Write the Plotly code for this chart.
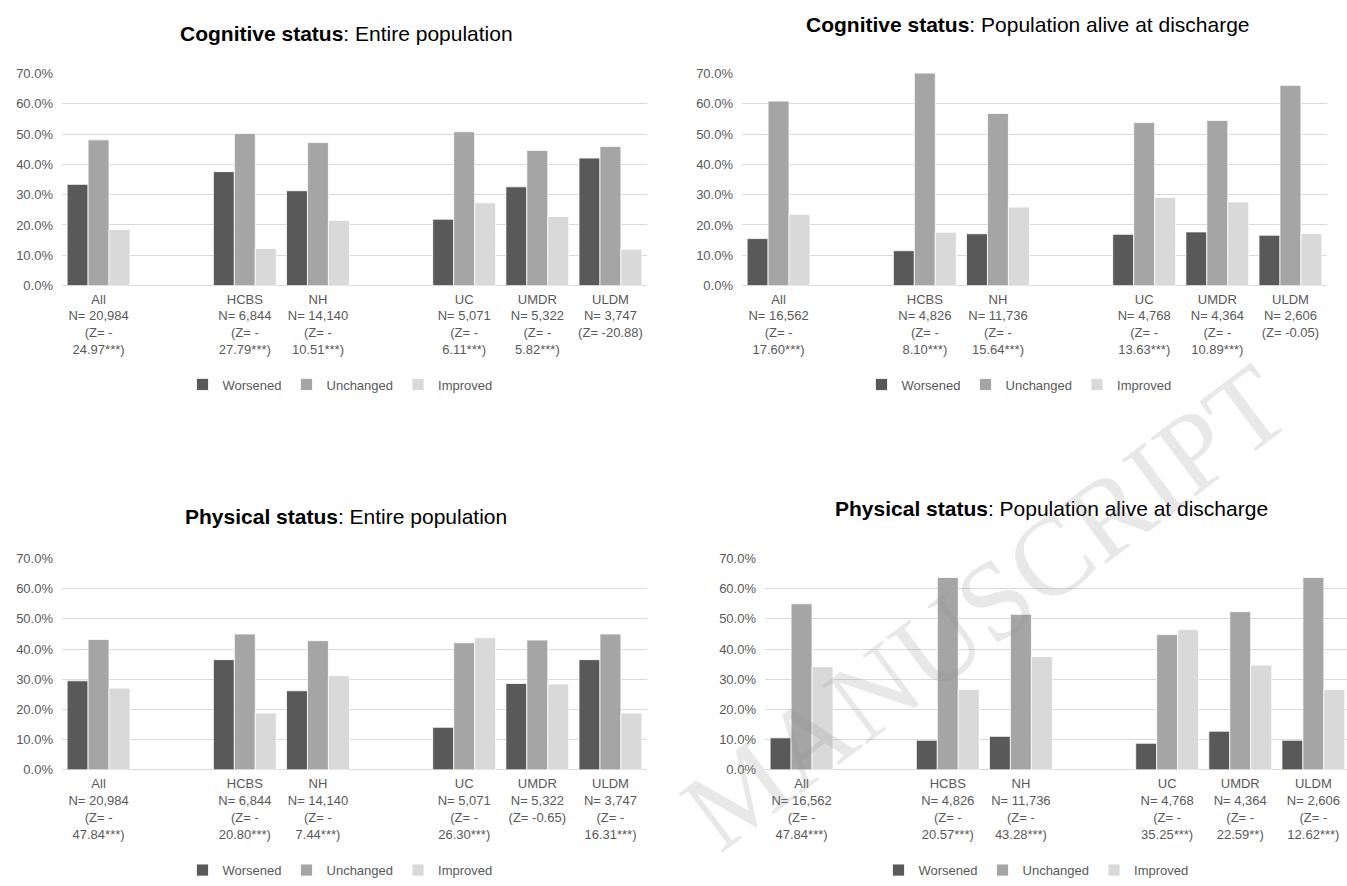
import plotly.graph_objects as go

W, H = 1347, 886

# ---------------- data ----------------
slots = ["All", "gap1", "HCBS", "NH", "gap2", "UC", "UMDR", "ULDM"]
groups = ["All", "HCBS", "NH", "UC", "UMDR", "ULDM"]
series_names = ["Worsened", "Unchanged", "Improved"]

# Cognitive status: Entire population (%)
cog_entire_worsened = [33.4, 37.6, 31.3, 21.9, 32.6, 42.1]
cog_entire_unchanged = [48.1, 50.2, 47.2, 50.8, 44.6, 45.9]
cog_entire_improved = [18.5, 12.2, 21.5, 27.3, 22.8, 12.0]
cog_entire_labels = [
    "All<br>N= 20,984<br>(Z= -<br>24.97***)",
    "HCBS<br>N= 6,844<br>(Z= -<br>27.79***)",
    "NH<br>N= 14,140<br>(Z= -<br>10.51***)",
    "UC<br>N= 5,071<br>(Z= -<br>6.11***)",
    "UMDR<br>N= 5,322<br>(Z= -<br>5.82***)",
    "ULDM<br>N= 3,747<br>(Z= -20.88)",
]

# Cognitive status: Population alive at discharge (%)
cog_alive_worsened = [15.5, 11.5, 17.1, 16.9, 17.7, 16.6]
cog_alive_unchanged = [60.9, 70.9, 56.8, 53.8, 54.5, 66.1]
cog_alive_improved = [23.5, 17.6, 25.9, 29.1, 27.6, 17.2]
cog_alive_labels = [
    "All<br>N= 16,562<br>(Z= -<br>17.60***)",
    "HCBS<br>N= 4,826<br>(Z= -<br>8.10***)",
    "NH<br>N= 11,736<br>(Z= -<br>15.64***)",
    "UC<br>N= 4,768<br>(Z= -<br>13.63***)",
    "UMDR<br>N= 4,364<br>(Z= -<br>10.89***)",
    "ULDM<br>N= 2,606<br>(Z= -0.05)",
]

# Physical status: Entire population (%)
phy_entire_worsened = [29.5, 36.5, 26.2, 14.1, 28.6, 36.5]
phy_entire_unchanged = [43.2, 45.0, 42.8, 42.1, 43.0, 45.0]
phy_entire_improved = [27.1, 18.8, 31.2, 43.8, 28.4, 18.8]
phy_entire_labels = [
    "All<br>N= 20,984<br>(Z= -<br>47.84***)",
    "HCBS<br>N= 6,844<br>(Z= -<br>20.80***)",
    "NH<br>N= 14,140<br>(Z= -<br>7.44***)",
    "UC<br>N= 5,071<br>(Z= -<br>26.30***)",
    "UMDR<br>N= 5,322<br>(Z= -0.65)",
    "ULDM<br>N= 3,747<br>(Z= -<br>16.31***)",
]

# Physical status: Population alive at discharge (%)
phy_alive_worsened = [10.6, 9.8, 11.1, 8.8, 12.8, 9.8]
phy_alive_unchanged = [55.0, 63.7, 51.5, 44.8, 52.4, 63.7]
phy_alive_improved = [34.2, 26.6, 37.5, 46.5, 34.7, 26.6]
phy_alive_labels = [
    "All<br>N= 16,562<br>(Z= -<br>47.84***)",
    "HCBS<br>N= 4,826<br>(Z= -<br>20.57***)",
    "NH<br>N= 11,736<br>(Z= -<br>43.28***)",
    "UC<br>N= 4,768<br>(Z= -<br>35.25***)",
    "UMDR<br>N= 4,364<br>(Z= -<br>22.59**)",
    "ULDM<br>N= 2,606<br>(Z= -<br>12.62***)",
]

panel_titles = [
    "<b>Cognitive status</b>: Entire population",
    "<b>Cognitive status</b>: Population alive at discharge",
    "<b>Physical status</b>: Entire population",
    "<b>Physical status</b>: Population alive at discharge",
]

watermark_text = "MANUSCRIPT"

# ---------------- style / layout ----------------
colors = ["#595959", "#A5A5A5", "#D9D9D9"]
FONT = "Liberation Sans, Arial, sans-serif"
TICK_COLOR = "#595959"
GRID = "#D9D9D9"

# plot boxes in pixels: (x0, x1, ytop, ybottom)
boxes = [
    (62, 647, 67.7, 283.3),
    (742, 1327, 67.7, 283.3),
    (62, 647, 561, 776),
    (765, 1347, 561, 776),
]
xranges = [[-0.5, 7.5], [-0.5, 7.5], [-0.5, 7.5], [-0.5, 7.46]]
title_pos = [(346, 27), (1028, 18), (346, 518), (1051, 510)]
legend_pos = [(340, 384), (1019, 384), (340, 878), (1036, 878)]

panels = [
    (cog_entire_worsened, cog_entire_unchanged, cog_entire_improved, cog_entire_labels),
    (cog_alive_worsened, cog_alive_unchanged, cog_alive_improved, cog_alive_labels),
    (phy_entire_worsened, phy_entire_unchanged, phy_entire_improved, phy_entire_labels),
    (phy_alive_worsened, phy_alive_unchanged, phy_alive_improved, phy_alive_labels),
]

fig = go.Figure()
layout = dict(
    width=W, height=H,
    margin=dict(l=0, r=0, t=0, b=0),
    paper_bgcolor="white", plot_bgcolor="white",
    barmode="group", bargap=0.14, bargroupgap=0.0,
    font=dict(family=FONT, color=TICK_COLOR, size=13),
    annotations=[],
)

for i, (wor, unc, imp, labels) in enumerate(panels):
    k = i + 1
    sfx = "" if k == 1 else str(k)
    xa, ya = "x" + sfx, "y" + sfx
    leg = "legend" + sfx
    for name, vals, col in zip(series_names, (wor, unc, imp), colors):
        fig.add_trace(go.Bar(
            x=groups, y=vals, name=name, xaxis=xa, yaxis=ya,
            marker=dict(color=col, line=dict(color="white", width=0.8)),
            legend=leg, showlegend=True,
            hovertemplate="%{x}: %{y:.1f}%<extra>" + name + "</extra>",
        ))
    x0, x1, yt, yb = boxes[i]
    layout["xaxis" + sfx] = dict(
        domain=[x0 / W, min(x1 / W, 1.0)], anchor=ya,
        type="category", categoryorder="array", categoryarray=slots,
        range=xranges[i],
        tickmode="array", tickvals=groups, ticktext=labels,
        tickfont=dict(family=FONT, size=13, color=TICK_COLOR),
        showgrid=False, zeroline=False, showline=False, ticks="",
        ticklabelstandoff=4,
    )
    layout["yaxis" + sfx] = dict(
        domain=[(H - yb) / H, (H - yt) / H], anchor=xa,
        range=[0, 70], dtick=10, tick0=0,
        tickformat=".1f", ticksuffix="%",
        tickfont=dict(family=FONT, size=13, color=TICK_COLOR),
        showgrid=True, gridcolor=GRID, gridwidth=1.2,
        zeroline=True, zerolinecolor=GRID, zerolinewidth=1.2,
        showline=False, ticks="", ticklabelstandoff=8,
    )
    lx, ly = legend_pos[i]
    layout[leg] = dict(
        orientation="h", x=lx / W, y=(H - ly) / H,
        xanchor="center", yanchor="middle",
        font=dict(family=FONT, size=13, color=TICK_COLOR),
        bgcolor="rgba(0,0,0,0)", itemwidth=30, tracegroupgap=0,
    )
    tx, ty = title_pos[i]
    layout["annotations"].append(dict(
        text=panel_titles[i], x=tx / W, y=(H - ty) / H,
        xref="paper", yref="paper", xanchor="center", yanchor="middle",
        showarrow=False, font=dict(family=FONT, size=21, color="black"),
    ))

# diagonal watermark
layout["annotations"].append(dict(
    text=watermark_text, x=985 / W, y=(H - 610) / H,
    xref="paper", yref="paper", xanchor="center", yanchor="middle",
    showarrow=False, textangle=-37,
    font=dict(family="Liberation Serif, Times New Roman, serif", size=112,
              color="rgba(140,140,140,0.2)"),
))

fig.update_layout(**layout)
fig.write_html("out.html")
